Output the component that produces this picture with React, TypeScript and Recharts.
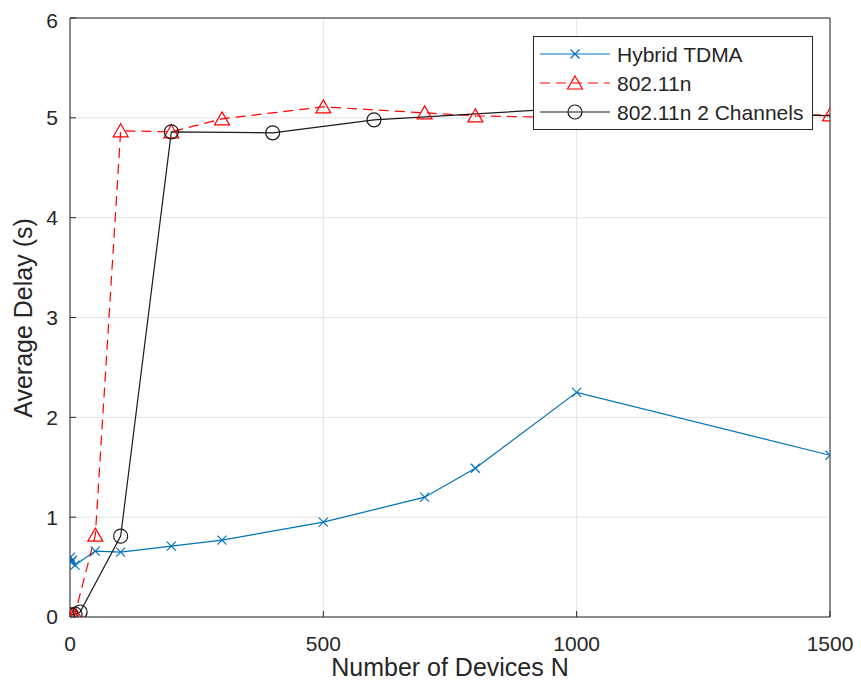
import React from 'react';
import { LineChart, Line, XAxis, YAxis, CartesianGrid, ReferenceLine } from 'recharts';

const xTicks = [0, 500, 1000, 1500];
const yTicks = [0, 1, 2, 3, 4, 5, 6];

const hybridTdma = [
  { n: 1, v: 0.6 },
  { n: 2, v: 0.55 },
  { n: 5, v: 0.57 },
  { n: 10, v: 0.52 },
  { n: 50, v: 0.66 },
  { n: 100, v: 0.65 },
  { n: 200, v: 0.71 },
  { n: 300, v: 0.77 },
  { n: 500, v: 0.95 },
  { n: 700, v: 1.2 },
  { n: 800, v: 1.49 },
  { n: 1000, v: 2.25 },
  { n: 1500, v: 1.62 },
];

const wifi = [
  { n: 1, v: 0.02 },
  { n: 5, v: 0.02 },
  { n: 10, v: 0.03 },
  { n: 50, v: 0.82 },
  { n: 100, v: 4.87 },
  { n: 200, v: 4.86 },
  { n: 300, v: 4.99 },
  { n: 500, v: 5.11 },
  { n: 700, v: 5.05 },
  { n: 800, v: 5.02 },
  { n: 1000, v: 5.0 },
  { n: 1500, v: 5.03 },
];

const wifi2ch = [
  { n: 2, v: 0.02 },
  { n: 10, v: 0.03 },
  { n: 20, v: 0.05 },
  { n: 100, v: 0.81 },
  { n: 200, v: 4.86 },
  { n: 400, v: 4.85 },
  { n: 600, v: 4.98 },
  { n: 1000, v: 5.1 },
  { n: 2000, v: 4.94 },
];

const seriesNames = ['Hybrid TDMA', '802.11n', '802.11n 2 Channels'];
const BLUE = '#0072BD';
const RED = '#FF0000';
const BLACK = '#1a1a1a';
const TXT = '#262626';
const FONT = '"Liberation Sans", Arial, Helvetica, sans-serif';

const Cross = ({ cx, cy, color }: any) => (
  <g>
    <line x1={cx - 4.5} y1={cy - 4.5} x2={cx + 4.5} y2={cy + 4.5} stroke={color} strokeWidth={1.2} />
    <line x1={cx - 4.5} y1={cy + 4.5} x2={cx + 4.5} y2={cy - 4.5} stroke={color} strokeWidth={1.2} />
  </g>
);
const Tri = ({ cx, cy, color }: any) => (
  <polygon
    points={`${cx},${cy - 7} ${cx + 7.5},${cy + 6} ${cx - 7.5},${cy + 6}`}
    fill="none"
    stroke={color}
    strokeWidth={1.2}
  />
);
const Circ = ({ cx, cy, color }: any) => (
  <circle cx={cx} cy={cy} r={7} fill="none" stroke={color} strokeWidth={1.2} />
);

const dotFn = (Shape: any, color: string) => (props: any) => {
  const { cx, cy, key, index } = props;
  if (cx == null || cy == null) return <g key={key ?? index} />;
  return (
    <g key={key ?? `d-${index}`}>
      <Shape cx={cx} cy={cy} color={color} />
    </g>
  );
};

const LegendBox = () => {
  const rows = [
    { name: seriesNames[0], color: BLUE, dash: undefined, Shape: Cross },
    { name: seriesNames[1], color: RED, dash: '10 6', Shape: Tri },
    { name: seriesNames[2], color: BLACK, dash: undefined, Shape: Circ },
  ];
  return (
    <svg width={280} height={94} style={{ display: 'block' }}>
      <rect x={0.5} y={0.5} width={279} height={93} fill="#fff" stroke={TXT} strokeWidth={1} />
      {rows.map((r, i) => {
        const y = 18 + i * 29;
        return (
          <g key={r.name}>
            <line x1={7} y1={y} x2={77} y2={y} stroke={r.color} strokeWidth={1.2} strokeDasharray={r.dash} />
            <r.Shape cx={42} cy={y} color={r.color} />
            <text x={84} y={y} dominantBaseline="central" fontSize={21} fill={TXT} fontFamily={FONT}>
              {r.name}
            </text>
          </g>
        );
      })}
    </svg>
  );
};

export default function App() {
  const tickStyle = { fontSize: 21, fill: TXT, fontFamily: FONT };
  return (
    <div style={{ position: 'relative', width: 845, height: 677 }}>
      <LineChart width={845} height={677} margin={{ top: 10, right: 23, left: 0, bottom: 0 }}>
        <CartesianGrid stroke="#e3e3e3" strokeWidth={1} />
        <XAxis
          type="number"
          dataKey="n"
          domain={[0, 1500]}
          ticks={xTicks}
          allowDataOverflow
          height={68}
          tickSize={-6}
          tickMargin={25}
          tick={tickStyle}
          axisLine={{ stroke: TXT }}
          tickLine={{ stroke: TXT }}
          label={{
            content: () => (
              <text x={442} y={659} textAnchor="middle" dominantBaseline="central" fontSize={25} fill={TXT} fontFamily={FONT}>
                Number of Devices N
              </text>
            ),
          }}
        />
        <YAxis
          type="number"
          domain={[0, 6]}
          ticks={yTicks}
          allowDataOverflow
          width={62}
          tickSize={-6}
          tickMargin={18}
          tick={tickStyle}
          axisLine={{ stroke: TXT }}
          tickLine={{ stroke: TXT }}
          label={{
            content: () => (
              <text
                x={15}
                y={310}
                transform="rotate(-90 15 310)"
                textAnchor="middle"
                dominantBaseline="central"
                fontSize={25}
                fill={TXT}
                fontFamily={FONT}
              >
                Average Delay (s)
              </text>
            ),
          }}
        />
        <ReferenceLine y={6} stroke={TXT} strokeWidth={1} />
        <ReferenceLine x={1500} stroke={TXT} strokeWidth={1} />
        <Line
          data={hybridTdma}
          dataKey="v"
          name={seriesNames[0]}
          stroke={BLUE}
          strokeWidth={1.2}
          dot={dotFn(Cross, BLUE)}
          isAnimationActive={false}
        />
        <Line
          data={wifi}
          dataKey="v"
          name={seriesNames[1]}
          stroke={RED}
          strokeWidth={1.2}
          strokeDasharray="10 6"
          dot={dotFn(Tri, RED)}
          isAnimationActive={false}
        />
        <Line
          data={wifi2ch}
          dataKey="v"
          name={seriesNames[2]}
          stroke={BLACK}
          strokeWidth={1.2}
          dot={dotFn(Circ, BLACK)}
          isAnimationActive={false}
        />
      </LineChart>
      <div style={{ position: 'absolute', left: 525, top: 28 }}>
        <LegendBox />
      </div>
    </div>
  );
}
